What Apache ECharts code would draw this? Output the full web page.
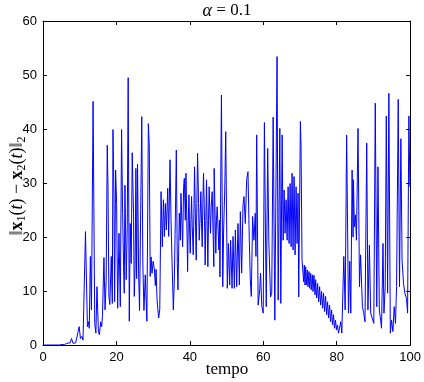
<!DOCTYPE html>
<html>
<head>
<meta charset="utf-8">
<script src="https://cdn.jsdelivr.net/npm/echarts@6/dist/echarts.min.js"></script>
<style>
  html, body { margin: 0; padding: 0; background: #fff; }
  #main { width: 424px; height: 382px; }
</style>
</head>
<body>
<div id="main"></div>
<script>
// tempo (x) values, peaks and troughs
var tempo = [
  0, 4.5, 5.2, 5.8, 6.4, 6.86, 7.4, 7.77, 8.2, 8.6, 8.9, 9.3, 9.85, 10.2, 10.6, 10.9,
  11.57, 12.1, 12.4, 12.6, 12.9, 13.2, 13.64, 14.09, 14.4, 14.7, 15.09, 15.36, 15.72, 16.0,
  16.2, 16.6, 16.9, 17.2, 17.5, 17.7, 17.95, 18.2, 18.6, 18.88, 19.06, 19.33, 19.5, 19.78,
  20.05, 20.33, 20.7, 21.05, 21.4, 21.69, 21.95, 22.13, 22.32, 22.67, 22.95, 23.2, 23.5,
  23.76, 24.03, 24.3, 24.66, 24.85, 25.1, 25.3, 25.5, 25.75, 26.05, 26.3, 26.9, 27.2, 27.5,
  27.85, 28.3, 28.7, 28.95, 29.2, 29.45, 29.7, 30.0, 30.35, 30.6, 30.8, 31.07, 31.5, 31.8,
  32.16, 32.5, 32.8, 33.06, 33.33, 33.6, 33.97, 34.24, 34.6, 34.87, 35.14, 35.5, 35.77,
  36.04, 36.31, 36.58, 36.76, 37.13, 37.4, 37.58, 37.85, 38.03, 38.3, 38.49, 38.76, 38.94,
  39.21, 39.39, 39.57, 39.75, 39.93, 40.1, 40.29, 40.47, 40.65, 40.92, 41.1, 41.28, 41.55,
  41.73, 41.91, 42.1, 42.37, 42.55, 42.82, 43.0, 43.18, 43.36, 43.54, 43.72, 44.0, 44.17,
  44.36, 44.54, 44.72, 44.9, 45.08, 45.26, 45.45, 45.63, 45.81, 46.08, 46.35, 46.53, 46.62,
  46.89, 47.07, 47.25, 47.43, 47.7, 47.89, 48.07, 48.2, 48.6, 48.97, 49.2, 49.5, 49.77,
  50.2, 50.5, 50.85, 51.1, 51.49, 51.76, 52.12, 52.4, 52.75, 53.11, 53.48, 53.75, 54.11,
  54.47, 54.74, 55.1, 55.47, 55.83, 56.19, 56.46, 56.73, 57.09, 57.45, 57.81, 58.0, 58.2,
  58.6, 59.0, 59.26, 59.6, 59.98, 60.3, 60.8, 61.2, 61.5, 61.97, 62.3, 62.69, 63.14, 63.75,
  64.05, 64.5, 64.77, 65.13, 65.4, 65.67, 65.94, 66.21, 66.49, 66.76, 67.03, 67.3, 67.57,
  67.84, 68.11, 68.38, 68.66, 68.93, 69.2, 69.47, 69.65, 70.1, 70.28, 70.55,
  70.82, 71.0, 71.18, 71.36, 71.54, 71.72, 71.99, 72.17, 72.45, 72.63, 72.9, 73.08, 73.35,
  73.53, 73.8, 74.08, 74.26, 74.53, 74.8, 75.07, 75.34, 75.61, 75.88, 76.15, 76.42, 76.69,
  76.97, 77.24, 77.51, 77.78, 78.05, 78.32, 78.59, 78.86, 79.13, 79.4, 79.67, 79.94, 80.2,
  80.48, 80.84, 81.1, 81.39, 81.93, 82.3, 82.7, 83.2, 83.56, 83.83, 84.19, 84.46, 84.55,
  84.8, 85.1, 85.37, 85.8, 86.2, 86.5, 87.0, 87.35, 87.7, 88.17, 88.5, 88.9, 89.25, 89.7,
  90.1, 90.5, 90.9, 91.24, 91.6, 91.96, 92.2, 92.6, 92.86, 93.2, 93.5, 93.86, 94.2, 94.6,
  94.94, 95.3, 95.66, 96.0, 96.3, 96.75, 97.1, 97.47, 97.8, 98.2, 98.56, 99.0, 99.3, 99.65,
  99.93
];
// ||x1(t) - x2(t)||_2 at those times
var dist = [
  0, 0, 0.1, 0.05, 0.3, 0.05, 0.4, 1.2, 0.3, 0.5, 0.4, 0.1, 3.4, 1.2, 1.6, 0.9,
  21.0, 3.4, 4.3, 3.1, 16.4, 6.5, 45.1, 4.0, 2.2, 10.8, 2.5, 1.9, 4.3, 3.4,
  5.5, 16.2, 6.5, 12, 37.0, 29.3, 9, 7.5, 16.4, 7.7, 39.9, 27.5, 8.0, 32.4,
  26.2, 6.8, 20.7, 7.1, 39.9, 24.4, 14.5, 9.6, 29.6, 12.1, 21.9, 49.5, 4.4,
  22.5, 15.1, 35.6, 24.4, 9.0, 14.8, 32.7, 12.3, 33.5, 13, 6.4, 42.3, 14.8, 6.4,
  13, 4.4, 41, 36.7, 12.7, 16.3, 13.3, 15.5, 13.9, 11, 14, 8.3, 5, 6.5,
  28.4, 18.2, 26.9, 20.1, 26.2, 21.3, 29.0, 20.1, 34.3, 23.1, 15.7, 6.5, 12.0,
  23.1, 36.1, 15.1, 10.2, 24.4, 19.4, 28.1, 22.5, 18.2, 29.3, 30.9, 23.1, 31.8,
  21.3, 13.6, 23.1, 27.8, 21.3, 17.0, 23.1, 27.5, 21.9, 16.7, 24.4, 33.0, 21.9,
  15.7, 26.2, 35.5, 26.2, 19.4, 24.4, 28.4, 22.5, 18.2, 26.2, 31.8, 23.1, 14.8,
  23.1, 30.6, 21.9, 14.5, 23.1, 29.3, 24.4, 20.7, 25.6, 28.4, 20.1, 14.5, 32.7,
  23.1, 17.0, 23.1, 25.6, 21.3, 17.6, 23.1, 12.6, 46.3, 10.8, 21.3, 28.7, 39.5,
  10.5, 18.8, 11.1, 19.4, 10.5, 20.1, 10.5, 21.3, 10.8, 22.5, 11.1, 24.7, 13.3,
  25.9, 27.5, 22.5, 30.6, 32.1, 19.4, 12.1, 9.0, 23.8, 19.4, 24.4, 16.4, 38.9,
  7.4, 10, 13.3, 7.1, 5.9, 41.2, 7.1, 36.4, 19.4, 8.9, 9.6, 42.2, 4.6, 53.4,
  8.3, 40.1, 7.7, 38.9, 19.4, 28.7, 20.7, 26.9, 19.4, 29.3, 18.8, 29.9, 18.2,
  31.8, 17.6, 31.2, 16.7, 29.3, 18.8, 28.1, 8.9, 41.4, 36.7, 15.7,
  15.4, 11.7, 14.8, 11.1, 14.5, 11.1, 13.9, 10.8, 13.6, 10.5, 13.3, 10.2, 13.0,
  9.9, 12.9, 9.3, 12.1, 8.7, 11.4, 8.0, 10.8, 7.4, 9.9, 6.8, 9.6, 6.2,
  9.0, 5.6, 8.0, 5.0, 7.4, 4.3, 6.5, 3.7, 5.6, 3.1, 4.6, 2.8, 3.7,
  2.2, 2.5, 4.3, 2.2, 16.4, 6.5, 38.9, 5.9, 15.5, 5.9, 32.4, 20.0, 30.6,
  21.9, 24.1, 19.4, 40.1, 10.8, 16.7, 7.1, 5.9, 4.3, 37.4, 6.5, 18.5, 5.9, 5.9,
  4.0, 44.8, 7.1, 33.0, 6.5, 4.6, 3.1, 18.8, 5.9, 10.8, 42.4, 9.6, 46.6, 2.2,
  4.6, 2.5, 7.1, 4.0, 10.8, 45.5, 10.8, 38.2, 15.7, 11.4, 9.6, 8.6, 5.9, 42.4,
  29.3
];
var xTicks = [0, 20, 40, 60, 80, 100];
var yTicks = [0, 10, 20, 30, 40, 50, 60];

var serif = "'Liberation Serif', 'DejaVu Serif', serif";
var sans = "'Liberation Sans', Arial, sans-serif";

var myChart = echarts.init(document.getElementById("main"), null, { renderer: "canvas" });

var points = tempo.map(function (t, i) {
  return [t, dist[i]];
});

var axisBase = {
  axisLine: { show: true, onZero: false, lineStyle: { color: "#000", width: 1 } },
  axisTick: { show: true, inside: true, length: 4, lineStyle: { color: "#000" } },
  splitLine: { show: false },
};

var option = {
  animation: false,
  backgroundColor: "#fff",
  grid: { left: 43, right: 12, top: 21, bottom: 37 },
  xAxis: [
    Object.assign({}, axisBase, {
      type: "value",
      min: xTicks[0],
      max: xTicks[xTicks.length - 1],
      interval: 20,
      position: "bottom",
      axisLabel: { color: "#000", fontSize: 13, fontFamily: sans, margin: 6 },
    }),
    Object.assign({}, axisBase, {
      type: "value",
      min: 0,
      max: 100,
      interval: 20,
      position: "top",
      axisLabel: { show: false },
    }),
  ],
  yAxis: [
    Object.assign({}, axisBase, {
      type: "value",
      min: yTicks[0],
      max: yTicks[yTicks.length - 1],
      interval: 10,
      position: "left",
      axisLabel: { color: "#000", fontSize: 13, fontFamily: sans, margin: 6 },
    }),
    Object.assign({}, axisBase, {
      type: "value",
      min: 0,
      max: 60,
      interval: 10,
      position: "right",
      axisLabel: { show: false },
    }),
  ],
  series: [
    {
      type: "line",
      data: points,
      showSymbol: false,
      symbol: "none",
      lineStyle: { color: "#0000ff", width: 1 },
      xAxisIndex: 0,
      yAxisIndex: 0,
    },
  ],
  graphic: [
    {
      type: "text",
      x: 227,
      y: 11,
      style: {
        text: "{i|α} = 0.1",
        font: "17px " + serif,
        fill: "#000",
        align: "center",
        verticalAlign: "middle",
        rich: { i: { fontStyle: "italic", fontSize: 18, fontFamily: serif } },
      },
    },
    {
      type: "text",
      x: 227,
      y: 370,
      style: {
        text: "tempo",
        font: "17px " + serif,
        fill: "#000",
        align: "center",
        verticalAlign: "middle",
      },
    },
    {
      type: "text",
      x: 17,
      y: 186,
      rotation: Math.PI / 2,
      style: {
        text: "{n|‖}{b|x}{s|1}{n|(}{i|t}{n|) − }{b|x}{s|2}{n|(}{i|t}{n|)‖}{s|2}",
        fill: "#000",
        align: "center",
        verticalAlign: "middle",
        rich: {
          n: { fontSize: 18, fontFamily: serif, lineHeight: 22, verticalAlign: "middle" },
          b: { fontWeight: "bold", fontSize: 18, fontFamily: serif, lineHeight: 22 },
          i: { fontStyle: "italic", fontSize: 18, fontFamily: serif, lineHeight: 22 },
          s: { fontSize: 12, fontFamily: serif, lineHeight: 22, verticalAlign: "bottom", padding: [6, 0, 0, 0] },
        },
      },
    },
  ],
};

myChart.setOption(option);
</script>
</body>
</html>
